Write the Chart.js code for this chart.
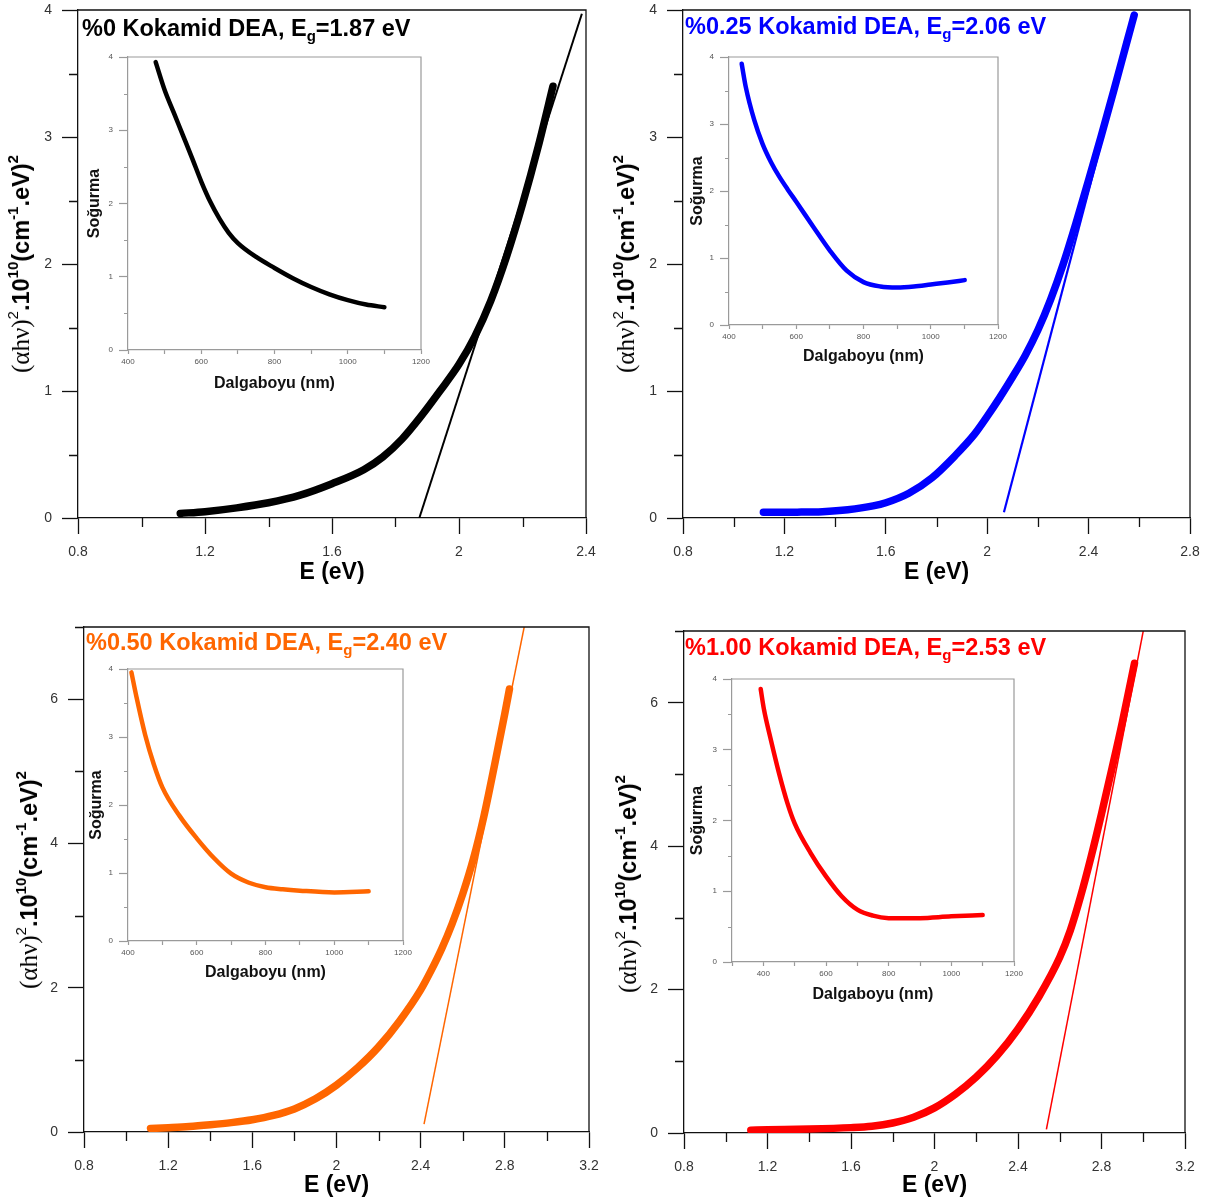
<!DOCTYPE html>
<html>
<head>
<meta charset="utf-8">
<script src="https://cdn.jsdelivr.net/npm/chart.js@4.4.0/dist/chart.umd.min.js"></script>
<style>
  html,body{margin:0;padding:0;background:#fff;}
  body{width:1205px;height:1200px;position:relative;overflow:hidden;font-family:"Liberation Sans",Arial,sans-serif;}
  canvas{position:absolute;}
  .ttl{position:absolute;font-weight:bold;font-size:23.5px;line-height:23px;white-space:nowrap;font-family:"Liberation Sans",Arial,sans-serif;}
  .ttl sub{font-size:15px;line-height:0;vertical-align:baseline;position:relative;top:5px;}
  .yt{position:absolute;white-space:nowrap;transform:translate(-50%,-50%) rotate(-90deg);font-weight:bold;font-size:23.5px;line-height:28px;color:#000;font-family:"Liberation Sans",Arial,sans-serif;}
  .yt .ah{font-weight:normal;font-family:"Liberation Serif","DejaVu Serif",serif;font-size:25px;}
  .yt sup{font-size:15px;line-height:0;vertical-align:baseline;position:relative;top:-11px;}
  .yt sup.n{font-weight:normal;}
</style>
</head>
<body>
<script>
// ---------------- DATA ----------------
const CONC = ['%0', '%0.25', '%0.50', '%1.00'];
const EG   = ['1.87', '2.06', '2.40', '2.53'];

// Main panels: E (eV) vs (αhν)^2 ×10^10
const E_P0  = [1.122, 1.2, 1.3, 1.4, 1.5, 1.6, 1.7, 1.76, 1.82, 1.88, 1.94, 2.0, 2.05, 2.1, 2.15, 2.2, 2.25, 2.296];
const AH_P0 = [0.036, 0.05, 0.08, 0.12, 0.18, 0.27, 0.38, 0.48, 0.62, 0.80, 1.00, 1.21, 1.43, 1.71, 2.06, 2.47, 2.93, 3.40];
const FIT_E_P0 = [1.875, 2.387];
const FIT_A_P0 = [0.0, 3.97];

const E_P1  = [1.117, 1.25, 1.35, 1.45, 1.55, 1.6, 1.691, 1.782, 1.873, 1.95, 2.0, 2.05, 2.1, 2.15, 2.2, 2.25, 2.3, 2.35, 2.4, 2.45, 2.5, 2.55, 2.58];
const AH_P1 = [0.045, 0.046, 0.05, 0.065, 0.095, 0.12, 0.195, 0.316, 0.49, 0.66, 0.80, 0.95, 1.11, 1.28, 1.48, 1.72, 2.0, 2.32, 2.66, 3.01, 3.37, 3.74, 3.96];
const FIT_E_P1 = [2.066, 2.58];
const FIT_A_P1 = [0.045, 3.94];

const E_P2  = [1.116, 1.2, 1.3, 1.4, 1.5, 1.6, 1.7, 1.8, 1.9, 2.0, 2.1, 2.2, 2.3, 2.4, 2.45, 2.5, 2.55, 2.6, 2.65, 2.7, 2.75, 2.8, 2.822];
const AH_P2 = [0.05, 0.06, 0.075, 0.10, 0.13, 0.17, 0.23, 0.32, 0.46, 0.65, 0.89, 1.18, 1.54, 1.97, 2.24, 2.54, 2.89, 3.30, 3.78, 4.37, 5.07, 5.80, 6.14];
const FIT_E_P2 = [2.416, 2.892];
const FIT_A_P2 = [0.11, 7.0];

const E_P3  = [1.12, 1.2, 1.4, 1.6, 1.7, 1.8, 1.9, 2.0, 2.1, 2.2, 2.3, 2.4, 2.5, 2.6, 2.65, 2.7, 2.75, 2.8, 2.85, 2.9, 2.958];
const AH_P3 = [0.04, 0.045, 0.055, 0.075, 0.095, 0.14, 0.22, 0.35, 0.54, 0.78, 1.08, 1.45, 1.90, 2.45, 2.82, 3.30, 3.85, 4.45, 5.08, 5.73, 6.55];
const FIT_E_P3 = [2.536, 3.0];
const FIT_A_P3 = [0.05, 7.0];

// Insets: Dalgaboyu (nm) vs Soğurma
const WL_P0 = [475.6, 500, 525, 550, 575, 600, 625, 650, 675, 700, 750, 800, 850, 900, 950, 1000, 1050, 1100];
const AB_P0 = [3.93, 3.55, 3.24, 2.93, 2.62, 2.30, 2.02, 1.79, 1.60, 1.46, 1.27, 1.12, 0.98, 0.86, 0.76, 0.68, 0.62, 0.585];

const WL_P1 = [437.7, 450, 475, 500, 525, 550, 575, 600, 650, 700, 750, 800, 850, 900, 950, 1000, 1050, 1101];
const AB_P1 = [3.90, 3.55, 3.06, 2.70, 2.43, 2.21, 2.02, 1.84, 1.47, 1.11, 0.81, 0.64, 0.575, 0.56, 0.575, 0.605, 0.635, 0.67];

const WL_P2 = [410, 425, 450, 475, 500, 550, 600, 650, 700, 750, 800, 850, 900, 1000, 1100];
const AB_P2 = [3.95, 3.58, 3.03, 2.60, 2.26, 1.84, 1.51, 1.22, 0.99, 0.86, 0.79, 0.76, 0.74, 0.715, 0.73];

const WL_P3 = [391.5, 402, 423, 450, 476.6, 500, 551, 600, 650, 700, 750, 800, 849, 900, 1000, 1100];
const AB_P3 = [3.86, 3.57, 3.16, 2.67, 2.25, 1.96, 1.54, 1.21, 0.93, 0.74, 0.655, 0.62, 0.617, 0.62, 0.645, 0.664];

const X_TITLE = 'E (eV)';
const INSET_X_TITLE = 'Dalgaboyu (nm)';
const INSET_Y_TITLE = 'Soğurma';

// ---------------- LAYOUT / STYLE ----------------
const MAIN_E = [E_P0, E_P1, E_P2, E_P3];
const MAIN_A = [AH_P0, AH_P1, AH_P2, AH_P3];
const FIT_E = [FIT_E_P0, FIT_E_P1, FIT_E_P2, FIT_E_P3];
const FIT_A = [FIT_A_P0, FIT_A_P1, FIT_A_P2, FIT_A_P3];
const INS_W = [WL_P0, WL_P1, WL_P2, WL_P3];
const INS_A = [AB_P0, AB_P1, AB_P2, AB_P3];

const COLORS = ['#000000', '#0000ff', '#ff6600', '#ff0000'];
const FONT = '"Liberation Sans", Arial, sans-serif';

// area = [left, top, right, bottom] of plot area in page px
const PANELS = [
  {area:[78,10,586,518],    x:[0.8,2.4], y:[0,4], yMajor:1, yStep:0.5, title:[82,17],  yTitle:[21,264],  xTitleY:573,  fitW:2},
  {area:[683,10,1190,518],  x:[0.8,2.8], y:[0,4], yMajor:1, yStep:0.5, title:[685,15], yTitle:[626,264], xTitleY:573,  fitW:2.2},
  {area:[84,627,589,1132],  x:[0.8,3.2], y:[0,7], yMajor:2, yStep:1,   title:[86,631], yTitle:[29,880],  xTitleY:1186, fitW:1.5},
  {area:[684,631,1185,1133],x:[0.8,3.2], y:[0,7], yMajor:2, yStep:1,   title:[685,636], yTitle:[628,884], xTitleY:1186, fitW:1.5}
];

const INSETS = [
  {area:[128,57,421,350],  x:[400,1200], ytX:95,  xtY:384},
  {area:[729,57,998,325],  x:[400,1200], ytX:698, xtY:357},
  {area:[128,669,403,941], x:[400,1200], ytX:97,  xtY:973},
  {area:[732,679,1014,962], x:[300,1200], ytX:698, xtY:995}
];

function isMajor(v, origin, step){
  const r = (v - origin) / step;
  return Math.abs(r - Math.round(r)) < 1e-6;
}

const decor = {
  id: 'decor',
  afterDraw(chart, args, o){
    const {ctx, chartArea:a} = chart;
    const xs = chart.scales.x, ys = chart.scales.y;
    ctx.save();
    ctx.strokeStyle = o.frame;
    ctx.lineWidth = o.lw;
    ctx.beginPath();
    ctx.moveTo(a.left, a.top); ctx.lineTo(a.right, a.top); ctx.lineTo(a.right, a.bottom);
    ctx.stroke();
    ctx.strokeStyle = o.tick;
    ctx.beginPath();
    if (o.xMinLen > 0) xs.ticks.forEach(t => {
      if (!isMajor(t.value, o.xOrigin, o.xMajStep)) {
        const px = Math.round(xs.getPixelForValue(t.value)) + 0.5;
        ctx.moveTo(px, a.bottom); ctx.lineTo(px, a.bottom + o.xMinLen);
      }
    });
    if (o.yMinLen > 0) ys.ticks.forEach(t => {
      if (!isMajor(t.value, o.yOrigin, o.yMajStep)) {
        const py = Math.round(ys.getPixelForValue(t.value)) + 0.5;
        ctx.moveTo(a.left, py); ctx.lineTo(a.left - o.yMinLen, py);
      }
    });
    ctx.stroke();
    ctx.restore();
  }
};

function addCanvas(l, t, w, h){
  const cv = document.createElement('canvas');
  cv.width = w; cv.height = h;
  cv.style.left = l + 'px'; cv.style.top = t + 'px';
  cv.style.width = w + 'px'; cv.style.height = h + 'px';
  document.body.appendChild(cv);
  return cv;
}

function fmt(v){ return String(Math.round(v * 10) / 10); }

function makeMain(i){
  const P = PANELS[i];
  const [al, at, ar, ab] = P.area;
  const mL = 78, mT = 24, mR = 24, mB = 82;
  const cl = al - mL, ct = at - mT, cw = ar - al + mL + mR, ch = ab - at + mT + mB;
  const xtFont = 23, lh = xtFont * 1.2;
  const xTitlePad = (ct + ch - P.xTitleY) - lh / 2;
  const col = COLORS[i];
  const axisCol = '#111111';
  const cv = addCanvas(cl, ct, cw, ch);
  new Chart(cv, {
    type: 'scatter',
    data: { datasets: [
      { data: MAIN_E[i].map((e, k) => ({x: e, y: MAIN_A[i][k]})), showLine: true,
        borderColor: col, backgroundColor: col, borderWidth: 7.5, pointRadius: 0,
        cubicInterpolationMode: 'monotone', borderCapStyle: 'round', borderJoinStyle: 'round' },
      { data: FIT_E[i].map((e, k) => ({x: e, y: FIT_A[i][k]})), showLine: true,
        borderColor: col, backgroundColor: col, borderWidth: P.fitW, pointRadius: 0 }
    ]},
    options: {
      responsive: false, animation: false, devicePixelRatio: 1,
      layout: { padding: { top: mT, right: mR, left: 0, bottom: 0 } },
      plugins: { legend: {display: false}, tooltip: {enabled: false},
        decor: { frame: axisCol, tick: axisCol, lw: 1.3, xOrigin: P.x[0], xMajStep: 0.4, xMinLen: 9,
                 yOrigin: 0, yMajStep: P.yMajor, yMinLen: 9 } },
      scales: {
        x: { type: 'linear', min: P.x[0], max: P.x[1],
          afterFit: s => { s.height = mB; },
          ticks: { stepSize: 0.2, autoSkip: false, maxRotation: 0, padding: 10, color: '#333',
                   font: { family: FONT, size: 14 },
                   callback: v => isMajor(v, P.x[0], 0.4) ? fmt(v) : '' },
          grid: { drawOnChartArea: false, tickLength: 16, tickWidth: 1.3,
                  tickColor: c => (c.tick && isMajor(c.tick.value, P.x[0], 0.4)) ? axisCol : 'rgba(0,0,0,0)' },
          border: { color: axisCol, width: 1.3 },
          title: { display: true, text: X_TITLE, color: '#000',
                   font: { family: FONT, size: xtFont, weight: 'bold' },
                   padding: { top: 0, bottom: xTitlePad } }
        },
        y: { type: 'linear', min: P.y[0], max: P.y[1],
          afterFit: s => { s.width = mL; },
          ticks: { stepSize: P.yStep, autoSkip: false, padding: 10, color: '#333',
                   font: { family: FONT, size: 14 },
                   callback: v => isMajor(v, 0, P.yMajor) ? fmt(v) : '' },
          grid: { drawOnChartArea: false, tickLength: 16, tickWidth: 1.3,
                  tickColor: c => (c.tick && isMajor(c.tick.value, 0, P.yMajor)) ? axisCol : 'rgba(0,0,0,0)' },
          border: { color: axisCol, width: 1.3 }
        }
      }
    },
    plugins: [decor]
  });
}

function makeInset(i){
  const I = INSETS[i];
  const [al, at, ar, ab] = I.area;
  const mL = 56, mT = 14, mR = 18, mB = 46;
  const cl = al - mL, ct = at - mT, cw = ar - al + mL + mR, ch = ab - at + mT + mB;
  const col = COLORS[i];
  const g = '#9a9a9a';
  const tFont = 16, lh = tFont * 1.2;
  const cv = addCanvas(cl, ct, cw, ch);
  new Chart(cv, {
    type: 'scatter',
    data: { datasets: [
      { data: INS_W[i].map((w, k) => ({x: w, y: INS_A[i][k]})), showLine: true,
        borderColor: col, backgroundColor: col, borderWidth: 4.5, pointRadius: 0,
        cubicInterpolationMode: 'monotone', borderCapStyle: 'round', borderJoinStyle: 'round' }
    ]},
    options: {
      responsive: false, animation: false, devicePixelRatio: 1,
      layout: { padding: { top: mT, right: mR, left: 0, bottom: 0 } },
      plugins: { legend: {display: false}, tooltip: {enabled: false},
        decor: { frame: g, tick: g, lw: 1.2, xOrigin: 0, xMajStep: 100, xMinLen: 0,
                 yOrigin: 0, yMajStep: 1, yMinLen: 4 } },
      scales: {
        x: { type: 'linear', min: I.x[0], max: I.x[1],
          afterFit: s => { s.height = mB; },
          ticks: { stepSize: 100, autoSkip: false, maxRotation: 0, padding: 3, color: '#555',
                   font: { family: FONT, size: 8 },
                   callback: v => isMajor(v, 0, 200) ? String(Math.round(v)) : '' },
          grid: { drawOnChartArea: false, tickLength: 4, tickWidth: 1.2, tickColor: g },
          border: { color: g, width: 1.2 },
          title: { display: true, text: INSET_X_TITLE, color: '#111',
                   font: { family: FONT, size: tFont, weight: 'bold' },
                   padding: { top: 0, bottom: (ct + ch - I.xtY) - lh / 2 } }
        },
        y: { type: 'linear', min: 0, max: 4,
          afterFit: s => { s.width = mL; },
          ticks: { stepSize: 0.5, autoSkip: false, padding: 6, color: '#555',
                   font: { family: FONT, size: 8 },
                   callback: v => isMajor(v, 0, 1) ? String(Math.round(v)) : '' },
          grid: { drawOnChartArea: false, tickLength: 9, tickWidth: 1.2,
                  tickColor: c => (c.tick && isMajor(c.tick.value, 0, 1)) ? g : 'rgba(0,0,0,0)' },
          border: { color: g, width: 1.2 },
          title: { display: true, text: INSET_Y_TITLE, color: '#111',
                   font: { family: FONT, size: tFont, weight: 'bold' },
                   padding: { top: (I.ytX - cl) - lh / 2, bottom: 0 } }
        }
      }
    },
    plugins: [decor]
  });
}

function addTexts(i){
  const P = PANELS[i];
  const t = document.createElement('div');
  t.className = 'ttl';
  t.style.left = P.title[0] + 'px'; t.style.top = P.title[1] + 'px';
  t.style.color = COLORS[i];
  t.innerHTML = CONC[i] + ' Kokamid DEA, E<sub>g</sub>=' + EG[i] + ' eV';
  document.body.appendChild(t);
  const y = document.createElement('div');
  y.className = 'yt';
  y.style.left = P.yTitle[0] + 'px'; y.style.top = P.yTitle[1] + 'px';
  y.innerHTML = '<span class="ah">(&alpha;h&nu;)</span><sup class="n">2</sup>.10<sup>10</sup>(cm<sup>-1</sup>.eV)<sup>2</sup>';
  document.body.appendChild(y);
}

for (let i = 0; i < 4; i++) makeMain(i);
for (let i = 0; i < 4; i++) makeInset(i);
for (let i = 0; i < 4; i++) addTexts(i);
</script>
</body>
</html>
